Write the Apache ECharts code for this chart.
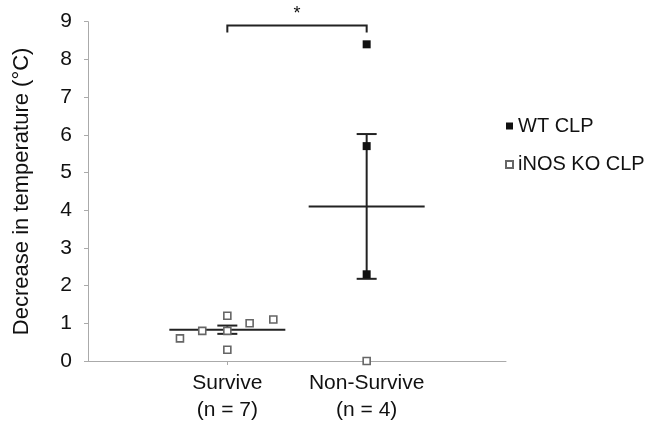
<!DOCTYPE html>
<html><head><meta charset="utf-8">
<script src="https://cdn.jsdelivr.net/npm/echarts@6/dist/echarts.min.js"></script>
<style>html,body{margin:0;padding:0;background:#fff}#c{width:654px;height:427px}</style>
</head><body><div id="c"></div>
<script>
const categories = ['Survive\n(n = 7)', 'Non-Survive\n(n = 4)'];
const categoryX = [1, 2];
const yTicks = [0,1,2,3,4,5,6,7,8,9];
// WT CLP (filled squares): [x, value]
const wtClp = [[2, 8.4], [2, 5.7], [2, 2.3]];
// iNOS KO CLP (open squares): [x, value]
const inosKo = [[0.66, 0.6], [0.82, 0.8], [1, 1.2], [1, 0.8], [1, 0.3], [1.16, 1.0], [1.33, 1.1], [2, 0.0]];
// group mean and SEM
const groupMean = [0.83, 4.1];
const groupErr = [0.11, 1.92];
// significance bracket: [x1, x2, y]
const bracket = [[1, 2, 8.9]];
const sigLabel = '*';

const FONT = 'Liberation Sans';
const chart = echarts.init(document.getElementById('c'));
chart.setOption({
  animation: false,
  backgroundColor: '#fff',
  grid: {left: 88, right: 148, top: 21.7, bottom: 66},
  legend: {
    orient: 'vertical', left: 500, top: 111, itemGap: 18.5,
    itemWidth: 7, itemHeight: 7, icon: 'rect',
    textStyle: {fontFamily: FONT, fontSize: 20, color: '#111'},
    data: ['WT CLP', 'iNOS KO CLP']
  },
  xAxis: {
    type: 'value', min: 0, max: 3, interval: 1,
    axisLine: {lineStyle: {color: '#aaa', width: 1}},
    axisTick: {show: true, length: 4, lineStyle: {color: '#aaa'}, customValues: categoryX},
    splitLine: {show: false},
    axisLabel: {
      customValues: categoryX,
      formatter: v => categories[categoryX.indexOf(v)] || '',
      fontFamily: FONT, fontSize: 21, color: '#111', lineHeight: 27, margin: 9
    }
  },
  yAxis: {
    type: 'value', min: 0, max: 9, interval: 1,
    name: 'Decrease in temperature (°C)', nameLocation: 'middle', nameGap: 55,
    nameTextStyle: {fontFamily: FONT, fontSize: 22, color: '#111'},
    axisLine: {show: true, lineStyle: {color: '#aaa', width: 1}},
    axisTick: {show: true, length: 4, lineStyle: {color: '#aaa'}},
    splitLine: {show: false},
    axisLabel: {fontFamily: FONT, fontSize: 21, color: '#111', margin: 16,
      formatter: v => yTicks.includes(v) ? String(v) : ''}
  },
  series: [
    {
      type: 'custom', name: 'errors', z: 2, silent: true,
      data: categoryX.map((x, i) => [x, groupMean[i], groupErr[i]]),
      encode: {x: 0, y: 1},
      renderItem: (params, api) => {
        const x = api.value(0), m = api.value(1), e = api.value(2);
        const c = api.coord([x, m]);
        const t = api.coord([x, m + e]);
        const b = api.coord([x, m - e]);
        const st = {stroke: '#222', lineWidth: 2, fill: null};
        const hw = 58, cw = 10;
        return {type: 'group', children: [
          {type: 'line', shape: {x1: c[0] - hw, y1: c[1], x2: c[0] + hw, y2: c[1]}, style: st},
          {type: 'line', shape: {x1: t[0], y1: t[1], x2: b[0], y2: b[1]}, style: st},
          {type: 'line', shape: {x1: t[0] - cw, y1: t[1], x2: t[0] + cw, y2: t[1]}, style: st},
          {type: 'line', shape: {x1: b[0] - cw, y1: b[1], x2: b[0] + cw, y2: b[1]}, style: st}
        ]};
      }
    },
    {
      type: 'custom', name: 'bracket', z: 2, silent: true, clip: false,
      data: bracket,
      encode: {x: [0, 1], y: 2},
      renderItem: (params, api) => {
        const a = api.coord([api.value(0), api.value(2)]);
        const b = api.coord([api.value(1), api.value(2)]);
        const drop = 7;
        return {type: 'group', children: [
          {type: 'polyline', shape: {points: [[a[0], a[1] + drop], [a[0], a[1]], [b[0], a[1]], [b[0], b[1] + drop]]},
            style: {stroke: '#222', lineWidth: 2, fill: null}},
          {type: 'text', style: {text: sigLabel, x: (a[0] + b[0]) / 2, y: a[1] - 11,
            align: 'center', verticalAlign: 'middle', fontFamily: FONT, fontSize: 18, fill: '#111'}}
        ]};
      }
    },
    {
      type: 'scatter', name: 'iNOS KO CLP', z: 3, symbol: 'rect', symbolSize: 7,
      data: inosKo,
      itemStyle: {color: '#fff', borderColor: '#666', borderWidth: 1.6, opacity: 1}
    },
    {
      type: 'scatter', name: 'WT CLP', z: 3, symbol: 'rect', symbolSize: 8,
      data: wtClp,
      itemStyle: {color: '#111', opacity: 1}
    }
  ]
});
</script></body></html>
